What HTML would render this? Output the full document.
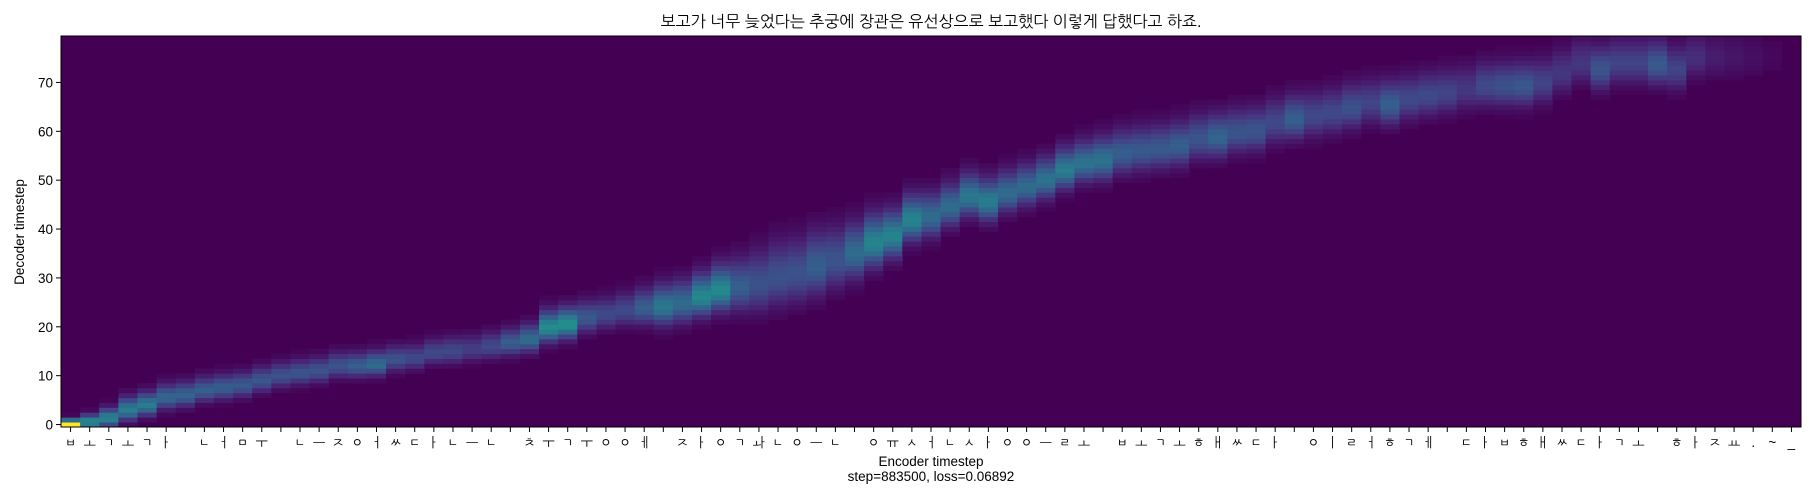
<!DOCTYPE html>
<html><head><meta charset="utf-8">
<style>
html,body{margin:0;padding:0;background:#fff;}
svg{display:block;}
text{font-family:"Liberation Sans","NanumGothic","Noto Sans CJK KR",sans-serif;fill:#000;}
</style></head>
<body>
<svg id="chart" width="1820" height="500" viewBox="0 0 1820 500">
<text x="931" y="27" font-size="16" text-anchor="middle">보고가 너무 늦었다는 추궁에 장관은 유선상으로 보고했다 이렇게 답했다고 하죠.</text>
<g id="cells"></g>
<rect x="61" y="36" width="1740" height="391" fill="none" stroke="#000" stroke-width="1"/>
<g id="yaxis"></g>
<g id="xaxis"></g>
<text x="931" y="466" font-size="13.5" text-anchor="middle">Encoder timestep</text>
<text x="931" y="481" font-size="13.5" text-anchor="middle">step=883500, loss=0.06892</text>
<text x="0" y="0" font-size="13.5" text-anchor="middle" transform="translate(24,232) rotate(-90)">Decoder timestep</text>
</svg>
<script>
const encoderLabels = Array.from("ㅂㅗㄱㅗㄱㅏ ㄴㅓㅁㅜ ㄴㅡㅈㅇㅓㅆㄷㅏㄴㅡㄴ ㅊㅜㄱㅜㅇㅇㅔ ㅈㅏㅇㄱㅘㄴㅇㅡㄴ ㅇㅠㅅㅓㄴㅅㅏㅇㅇㅡㄹㅗ ㅂㅗㄱㅗㅎㅐㅆㄷㅏ ㅇㅣㄹㅓㅎㄱㅔ ㄷㅏㅂㅎㅐㅆㄷㅏㄱㅗ ㅎㅏㅈㅛ.~_");
const yTicks = [0,10,20,30,40,50,60,70];
const decoderSteps = 80;
const peakRow = [0,0.5,1.3,3,4,5.5,6,7,7.5,8,9,10,10.5,11,12,12,12.3,13.3,13.6,14.7,15,15.4,16,16.7,17.4,19.8,20.5,21.8,22.5,23.3,23.8,
24.1,24.8,26.1,27.5,28.1,28.8,30.2,30.9,32.3,33.6,35,37.1,38.5,41.8,42.5,44.5,46.6,45.6,47.3,48.6,50,52,53.4,54,55.4,56,56.4,57,
58.4,58.7,59.7,60,61.7,62.4,63,63.7,64.7,65.7,65.4,66.5,67.2,67.8,68.5,69.2,69.2,69.2,69.9,71.9,73.9,72.6,73.9,73.9,73.6,72.6,75,75,75,75,75,75];
const peakVal = [1.0,0.5,0.45,0.42,0.42,0.33,0.32,0.3,0.3,0.28,0.27,0.25,0.26,0.26,0.26,0.3,0.35,0.26,0.22,0.22,0.22,0.18,0.22,0.3,0.35,0.48,0.5,0.28,0.22,0.22,0.3,
0.4,0.35,0.47,0.47,0.3,0.25,0.25,0.25,0.3,0.26,0.35,0.45,0.45,0.45,0.35,0.35,0.4,0.42,0.35,0.35,0.38,0.42,0.38,0.38,0.3,0.28,0.28,0.3,
0.26,0.32,0.26,0.26,0.22,0.3,0.22,0.22,0.25,0.2,0.3,0.22,0.22,0.2,0.16,0.22,0.25,0.27,0.2,0.16,0.16,0.26,0.2,0.2,0.28,0.2,0.13,0.08,0.06,0.04,0.02,0];
const spread = [0.6,0.9,1.2,1.5,1.5,1.6,1.6,1.6,1.6,1.6,1.6,1.6,1.6,1.6,1.6,1.6,1.6,1.6,1.6,1.6,1.7,1.7,1.7,1.7,1.8,2,2,2,2,2.1,2.3,
2.6,2.7,2.7,2.9,3.3,3.8,4,4,4,3.8,3.5,3.3,3,2.9,2.8,2.7,2.7,2.7,2.6,2.6,2.6,2.6,2.6,2.7,2.8,2.8,2.8,2.8,
2.8,2.8,2.8,2.8,2.8,2.8,2.8,2.8,2.8,2.8,2.8,2.8,2.8,2.8,2.8,2.8,2.8,2.8,2.8,2.8,2.8,2.8,2.8,2.8,2.8,2.8,2.8,2.8,2.8,2.8,2.8,2.8];

const NS = "http://www.w3.org/2000/svg";
const PL = 61, PR = 1801, PT = 36, PB = 427;
const nCols = encoderLabels.length;
const colW = (PR - PL) / nCols;
const rowH = (PB - PT) / decoderSteps;
function xOf(i){ return PL + i * colW; }
function yOf(r){ return PB - (r + 1) * rowH; }
function yCenter(v){ return PB - (v + 0.5) * rowH; }
const stops = ["#440154","#482475","#414487","#355f8d","#2a788e","#21918c","#22a884","#44bf70","#7ad151","#bddf26","#fde725"];
function hex(c){ return [parseInt(c.substr(1,2),16),parseInt(c.substr(3,2),16),parseInt(c.substr(5,2),16)]; }
function viridis(t){
  t = Math.max(0, Math.min(1, t));
  const p = t * 10, i = Math.min(9, Math.floor(p)), f = p - i;
  const a = hex(stops[i]), b = hex(stops[i+1]);
  return "rgb(" + a.map((v,k)=>Math.round(v + (b[k]-v)*f)).join(",") + ")";
}
const cells = document.getElementById("cells");
const bg = document.createElementNS(NS, "rect");
bg.setAttribute("x", PL); bg.setAttribute("y", PT);
bg.setAttribute("width", PR-PL); bg.setAttribute("height", PB-PT);
bg.setAttribute("fill", "#440154");


cells.appendChild(bg);
for (let c = 0; c < nCols; c++) {
  for (let r = 0; r < decoderSteps; r++) {
    const d = r - peakRow[c];
    const s = spread[c] * (d > 0 ? 1.15 : 0.9);
    const v = peakVal[c] * Math.exp(-0.5 * d * d / (s * s));
    if (v < 0.012) continue;
    const rc = document.createElementNS(NS, "rect");
    rc.setAttribute("x", xOf(c).toFixed(2));
    rc.setAttribute("y", yOf(r).toFixed(2));
    rc.setAttribute("width", (colW + 0.4).toFixed(2));
    rc.setAttribute("height", (rowH + 0.4).toFixed(2));
    rc.setAttribute("fill", viridis(v));
    
    
    cells.appendChild(rc);
  }
}
const yaxis = document.getElementById("yaxis");
yTicks.forEach(t => {
  const y = yCenter(t);
  const ln = document.createElementNS(NS, "line");
  ln.setAttribute("x1", PL-5); ln.setAttribute("x2", PL);
  ln.setAttribute("y1", y); ln.setAttribute("y2", y);
  ln.setAttribute("stroke", "#000");
  
  
  yaxis.appendChild(ln);
  const tx = document.createElementNS(NS, "text");
  tx.setAttribute("x", PL-8); tx.setAttribute("y", y+5);
  tx.setAttribute("font-size", "13.5");
  tx.setAttribute("text-anchor", "end");
  tx.textContent = t;
  
  
  yaxis.appendChild(tx);
});
const xaxis = document.getElementById("xaxis");
encoderLabels.forEach((lab, i) => {
  const x = xOf(i) + colW/2;
  const ln = document.createElementNS(NS, "line");
  ln.setAttribute("x1", x); ln.setAttribute("x2", x);
  ln.setAttribute("y1", PB); ln.setAttribute("y2", PB+5);
  ln.setAttribute("stroke", "#000");
  
  
  xaxis.appendChild(ln);
  const tx = document.createElementNS(NS, "text");
  tx.setAttribute("x", x); tx.setAttribute("y", PB+20);
  tx.setAttribute("font-size", "13.5");
  tx.setAttribute("text-anchor", "middle");
  tx.textContent = lab;
  
  
  xaxis.appendChild(tx);
});
</script>
</body></html>
